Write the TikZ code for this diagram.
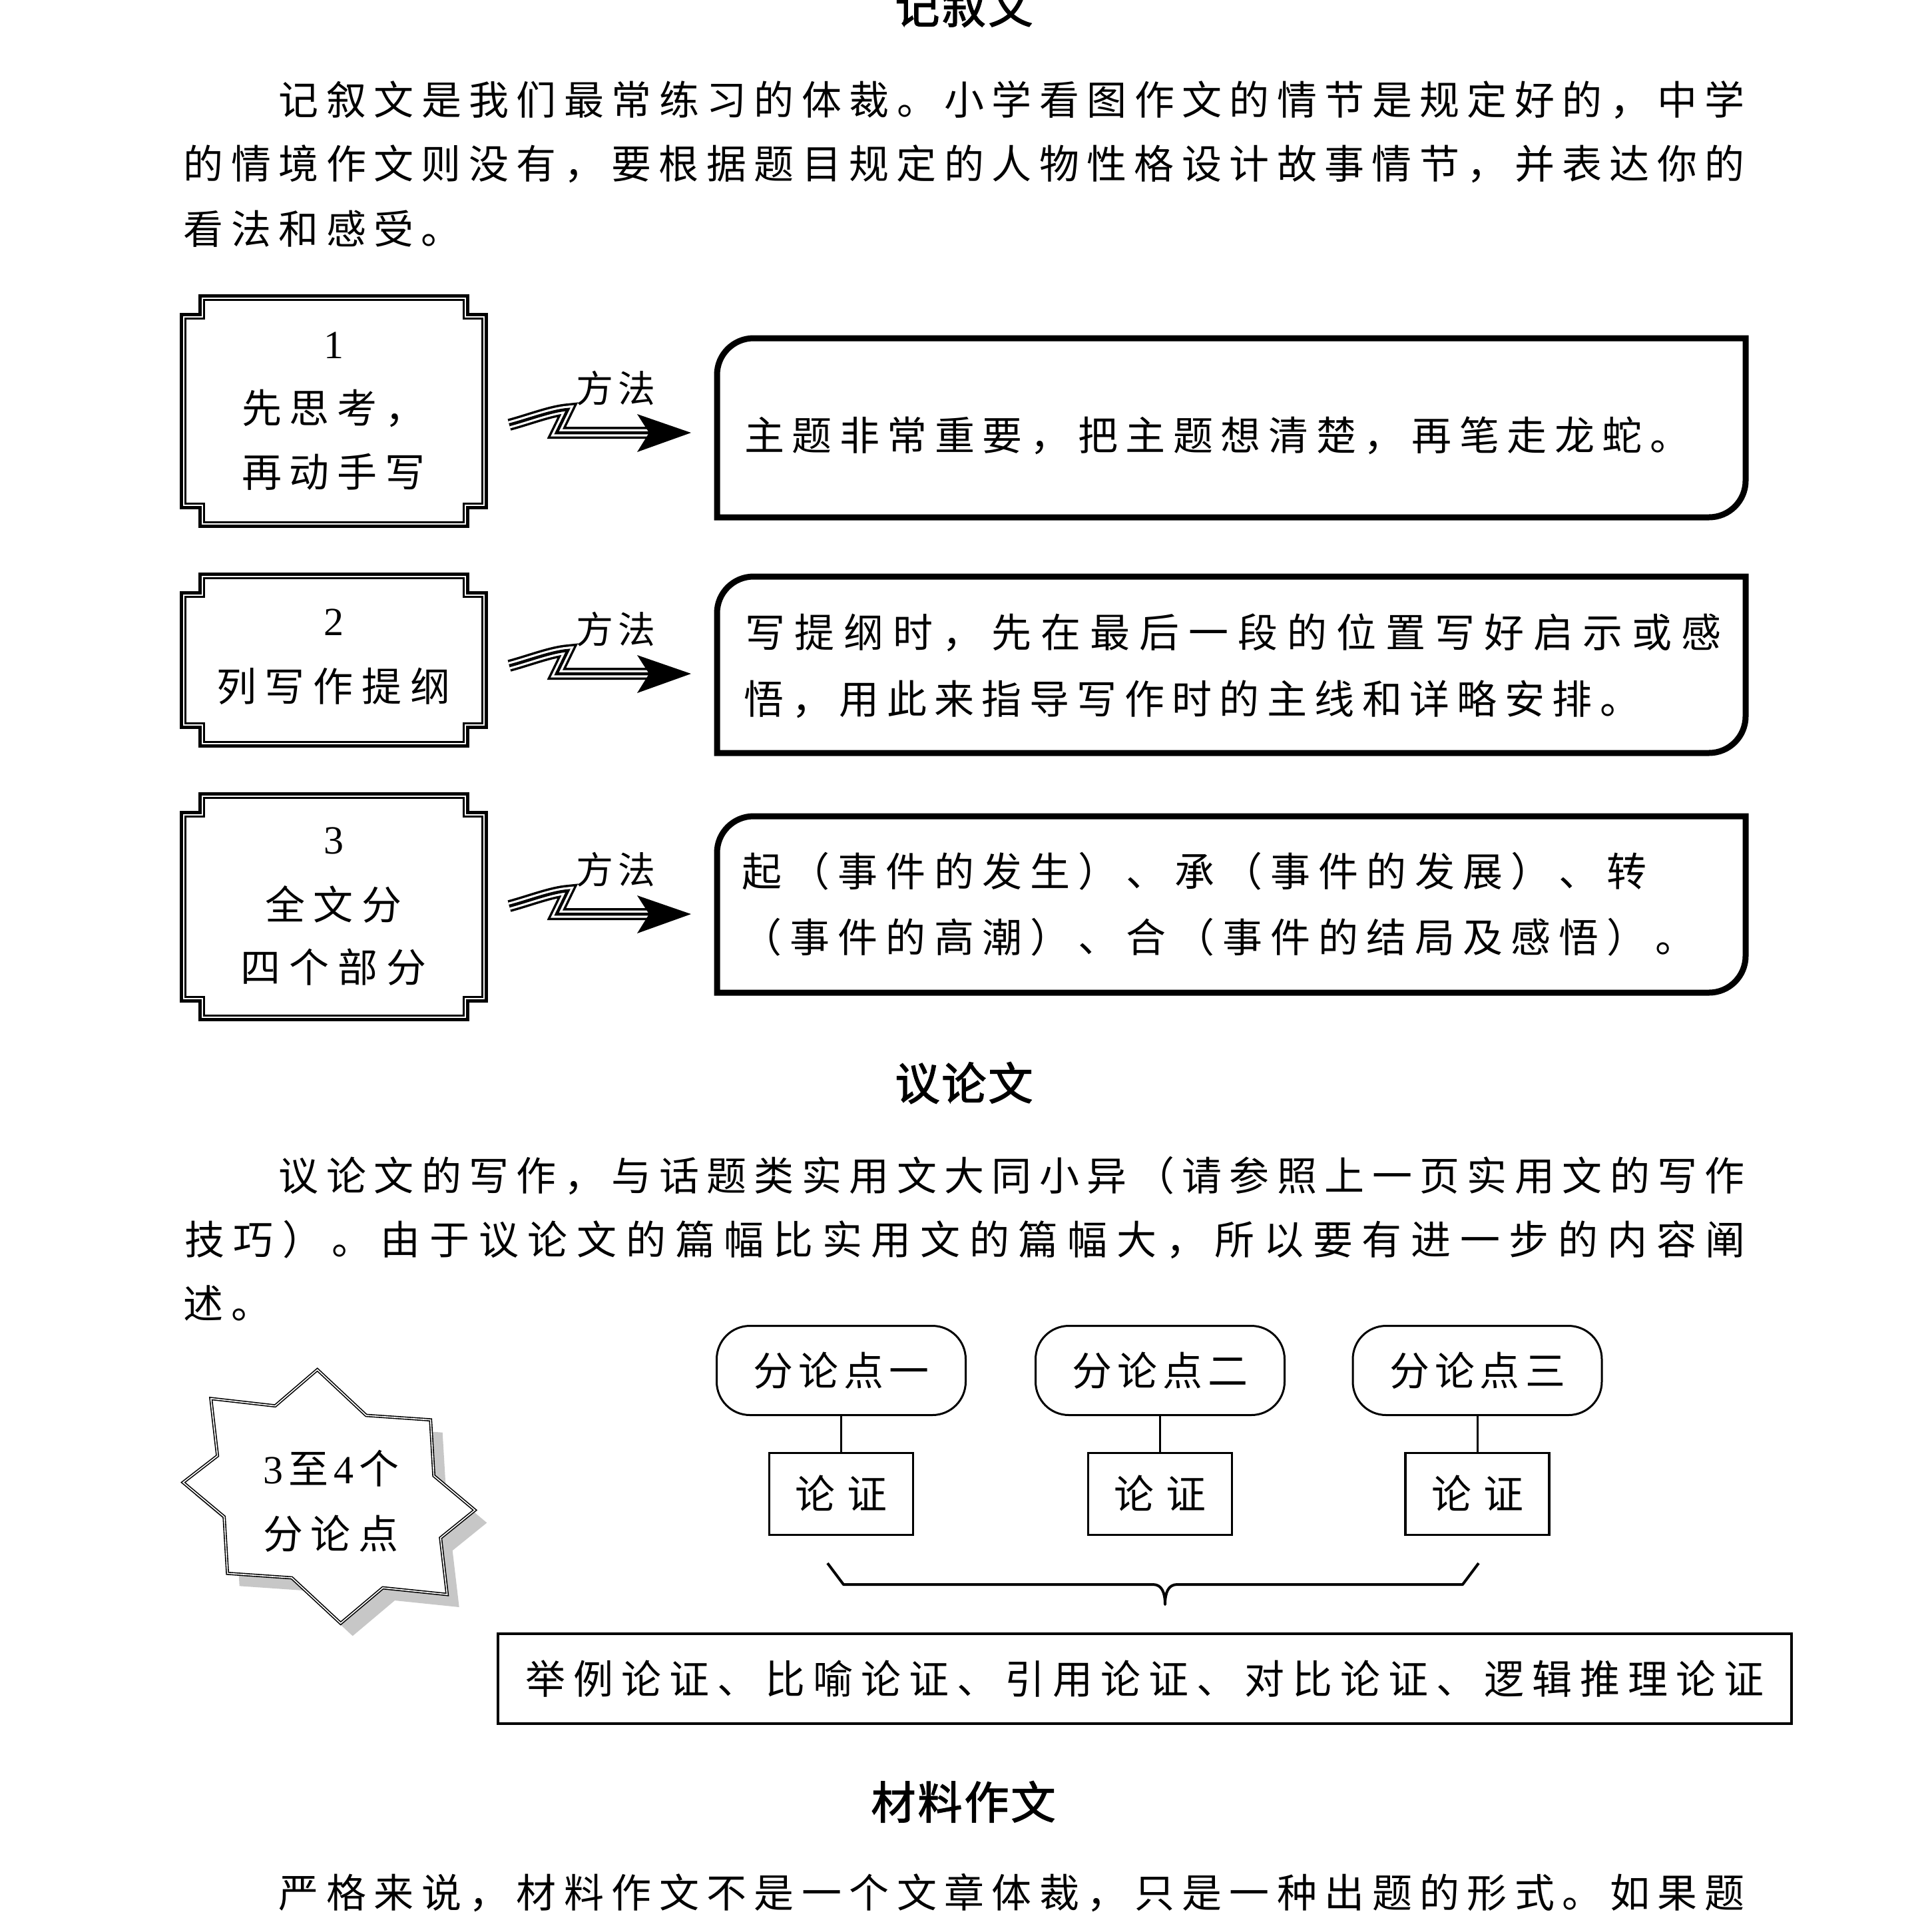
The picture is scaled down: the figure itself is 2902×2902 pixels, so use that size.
\documentclass[tikz,border=0pt]{standalone}
\usepackage{fontspec}
\setmainfont{Noto Sans CJK SC}
\newfontfamily\serif{Liberation Serif}
\newfontfamily\heiti{Noto Sans CJK SC}[FakeBold=2]
\ExplSyntaxOn
\NewDocumentCommand\pc{m m}{\tl_map_inline:nn{#2}{\makebox[#1pt][c]{##1}}}
\ExplSyntaxOff
\newcommand\bodyf{\fontsize{60pt}{64pt}\selectfont}
\newcommand\numf{\serif\fontsize{60pt}{64pt}\selectfont}
\newcommand\titlef{\heiti\fontsize{67pt}{70pt}\selectfont}
\newcommand\lblf{\fontsize{56pt}{60pt}\selectfont}
% notched double frame: outer edges x1 y1 x2 y2
\newcommand\notchbox[4]{%
  \draw[line width=5] (#1+30.5,#2+2.5) -- (#3-30.5,#2+2.5) -- (#3-30.5,#2+30.5) -- (#3-2.5,#2+30.5)
    -- (#3-2.5,#4-30.5) -- (#3-30.5,#4-30.5) -- (#3-30.5,#4-2.5) -- (#1+30.5,#4-2.5)
    -- (#1+30.5,#4-30.5) -- (#1+2.5,#4-30.5) -- (#1+2.5,#2+30.5) -- (#1+30.5,#2+30.5) -- cycle;
  \draw[line width=2.8] (#1+36.5,#2+8.5) -- (#3-36.5,#2+8.5) -- (#3-36.5,#2+36.5) -- (#3-8.5,#2+36.5)
    -- (#3-8.5,#4-36.5) -- (#3-36.5,#4-36.5) -- (#3-36.5,#4-8.5) -- (#1+36.5,#4-8.5)
    -- (#1+36.5,#4-36.5) -- (#1+8.5,#4-36.5) -- (#1+8.5,#2+36.5) -- (#1+36.5,#2+36.5) -- cycle;}
% right box, centerline x1 y1 x2 y2, rounded TL and BR
\newcommand\rbox[4]{%
  \draw[line width=9] (#1,#2+55) .. controls (#1,#2+24.6) and (#1+24.6,#2) .. (#1+55,#2) -- (#3,#2)
    -- (#3,#4-55) .. controls (#3,#4-24.6) and (#3-24.6,#4) .. (#3-55,#4) -- (#1,#4) -- cycle;}
% method arrow: #1 tip y, #2 name prefix
\newcommand\mfarrow[2]{%
  \begin{scope}[shift={(0,#1)}]
    \coordinate (#2s) at (765,-12);
    \coordinate (#2k) at (853,-35);
    \coordinate (#2j) at (836,0);
    \coordinate (#2h) at (975,0);
    \coordinate (#2e) at (1038,0);
    \foreach \w/\c in {18/black,11/white,4.5/black}
      \draw[line width=\w, draw=\c, miter limit=8] (#2s) .. controls +(30,-8) and +(-25,2) .. (#2k) -- (#2j) -- (#2h);
    \fill (957,-28) -- (#2e) -- (957,29) -- (#2h) -- cycle;
    \node[anchor=base, inner sep=0] (#2l) at (925,-46) {\lblf\pc{64}{方法}};
  \end{scope}}
\def\starpath{(476.7,2057.3) -- (550,2126) -- (646.7,2132.7) -- (651.7,2216.7) -- (713.3,2268.3)
  -- (661.7,2310) -- (671.7,2395) -- (575,2385) -- (511.7,2438.3) -- (438.3,2370)
  -- (341.7,2363.3) -- (336.7,2278.3) -- (275,2226.7) -- (326.7,2186.7) -- (316.7,2100.7)
  -- (413.3,2111.7) -- cycle}
\tikzset{
  txt/.style={inner sep=0, font=\bodyf},
  pbox/.style={draw, line width=3, rounded corners=50, minimum width=374, minimum height=134, inner sep=0, font=\bodyf, text height=49, text depth=3.6},
  zbox/.style={draw, line width=3.5, minimum width=216, minimum height=123, inner sep=0, font=\bodyf, text height=49, text depth=3.6},
}
\begin{document}
\begin{tikzpicture}[x=1pt, y=-1pt]
\useasboundingbox (0,0) rectangle (2902,2902);
\fill[white] (0,0) rectangle (2902,2902);

% titles
\node[anchor=base, inner sep=0] (h1) at (1448,35) {\titlef\pc{70}{记叙文}};
\node[anchor=base, inner sep=0] (h2) at (1448,1652) {\titlef\pc{70}{议论文}};
\node[anchor=base, inner sep=0] (h3) at (1447,2732) {\titlef\pc{70}{材料作文}};

% paragraph 1
\node[txt, anchor=base west] (a1) at (413,172) {\pc{71.4}{记叙文是我们最常练习的体裁。小学看图作文的情节是规定好的，中学}};
\node[txt, anchor=base west] (a2) at (270,268) {\pc{71.4}{的情境作文则没有，要根据题目规定的人物性格设计故事情节，并表达你的}};
\node[txt, anchor=base west] (a3) at (270,366) {\pc{71.4}{看法和感受。}};

% left boxes
\node[minimum width=463, minimum height=351, inner sep=0] (b1) at (501.5,617.5) {};
\notchbox{270}{442}{733}{793}
\node[minimum width=463, minimum height=263, inner sep=0] (b2) at (501.5,991.5) {};
\notchbox{270}{860}{733}{1123}
\node[minimum width=463, minimum height=344, inner sep=0] (b3) at (501.5,1362) {};
\notchbox{270}{1190}{733}{1534}

\node[anchor=base, inner sep=0] (b1n) at (501,538) {\numf 1};
\node[txt, anchor=base] (b1a) at (501,635) {\pc{72}{先思考，}};
\node[txt, anchor=base] (b1b) at (501,731) {\pc{72}{再动手写}};
\node[anchor=base, inner sep=0] (b2n) at (501,954) {\numf 2};
\node[txt, anchor=base] (b2a) at (501,1053) {\pc{73}{列写作提纲}};
\node[anchor=base, inner sep=0] (b3n) at (501,1282) {\numf 3};
\node[txt, anchor=base] (b3a) at (501,1381) {\pc{73}{全文分}};
\node[txt, anchor=base] (b3b) at (501,1475) {\pc{73}{四个部分}};

% right boxes
\node[minimum width=1545, minimum height=269, inner sep=0] (r1) at (1849.5,642.5) {};
\rbox{1077}{508}{2622}{777}
\node[minimum width=1545, minimum height=265, inner sep=0] (r2) at (1849.5,998.5) {};
\rbox{1077}{866}{2622}{1131}
\node[minimum width=1545, minimum height=265, inner sep=0] (r3) at (1849.5,1358.5) {};
\rbox{1077}{1226}{2622}{1491}

\node[txt, anchor=base west] (r1a) at (1112,676) {\pc{71.6}{主题非常重要，把主题想清楚，再笔走龙蛇。}};
\node[txt, anchor=base west] (r2a) at (1112,972) {\pc{74}{写提纲时，先在最后一段的位置写好启示或感}};
\node[txt, anchor=base west] (r2b) at (1112,1072) {\pc{71.4}{悟，用此来指导写作时的主线和详略安排。}};
\node[txt, anchor=base west] (r3a) at (1108,1331) {\pc{72.2}{起（事件的发生）、承（事件的发展）、转}};
\node[txt, anchor=base west] (r3b) at (1108,1430) {\pc{72.2}{（事件的高潮）、合（事件的结局及感悟）。}};

% method arrows
\mfarrow{650}{m1}
\mfarrow{1012}{m2}
\mfarrow{1373}{m3}

% paragraph 2
\node[txt, anchor=base west] (c1) at (413,1788) {\pc{71.4}{议论文的写作，与话题类实用文大同小异（请参照上一页实用文的写作}};
\node[txt, anchor=base west] (c2) at (270,1884) {\pc{73.7}{技巧）。由于议论文的篇幅比实用文的篇幅大，所以要有进一步的内容阐}};
\node[txt, anchor=base west] (c3) at (270,1980) {\pc{71.4}{述。}};

% star
\begin{scope}[shift={(18,19)}]
  \fill[black!22] \starpath;
\end{scope}
\filldraw[fill=white, draw=black, line width=1.6, double=white, double distance=1.6] \starpath;
\node[anchor=base, inner sep=0] (s1) at (497,2228) {\bodyf{\numf 3}\hspace{8pt}至\hspace{8pt}{\numf 4}\hspace{8pt}个};
\node[txt, anchor=base] (s2) at (497,2326) {\pc{72}{分论点}};

% sub-point boxes
\node[pbox] (p1) at (1263.5,2058.5) {\pc{68}{分论点一}};
\node[pbox] (p2) at (1742.5,2058.5) {\pc{68}{分论点二}};
\node[pbox] (p3) at (2219,2058.5) {\pc{68}{分论点三}};
\node[zbox] (z1) at (1263.5,2244) {\pc{78}{论证}};
\node[zbox] (z2) at (1742.5,2244) {\pc{78}{论证}};
\node[zbox] (z3) at (2219,2244) {\pc{78}{论证}};
\draw[line width=3] (p1) -- (z1);
\draw[line width=3] (p2) -- (z2);
\draw[line width=3] (p3) -- (z3);

% brace
\coordinate (brl) at (1243,2348);
\coordinate (brr) at (2221,2348);
\coordinate (brm) at (1750,2410);
\draw[line width=4, line join=round] (brl) -- (1267,2380) -- (1732,2380) .. controls (1745,2380) and (1750,2392) .. (brm)
  .. controls (1750,2392) and (1755,2380) .. (1768,2380) -- (2197,2380) -- (brr);

% methods box
\node[draw, line width=4, minimum width=1943, minimum height=135, inner sep=0, font=\bodyf, text height=49, text depth=3.6] (bm) at (1719.5,2521.5)
  {\pc{72}{举例论证、比喻论证、引用论证、对比论证、逻辑推理论证}};

% paragraph 3
\node[txt, anchor=base west] (d1) at (413,2865) {\pc{71.4}{严格来说，材料作文不是一个文章体裁，只是一种出题的形式。如果题}};
\end{tikzpicture}
\end{document}
